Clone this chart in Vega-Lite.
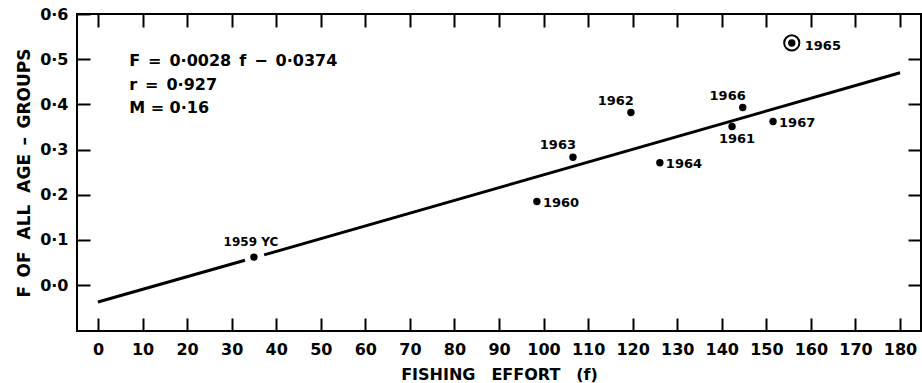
{
  "$schema": "https://vega.github.io/schema/vega-lite/v6.json",
  "autosize": "none",
  "width": 844,
  "height": 317,
  "padding": {"left": 77, "top": 14, "right": 1, "bottom": 52},
  "background": "white",
  "config": {
    "view": {"stroke": "black", "strokeWidth": 2},
    "font": "DejaVu Sans",
    "axis": {"domain": false, "grid": false, "tickColor": "black", "tickWidth": 2, "labelColor": "black", "titleColor": "black", "labelFont": "DejaVu Sans", "titleFont": "DejaVu Sans"}
  },
  "datasets": {
    "pts": [
      {"f": 35, "F": 0.062, "label": "1959 YC"},
      {"f": 98.5, "F": 0.185, "label": "1960"},
      {"f": 142.3, "F": 0.351, "label": "1961"},
      {"f": 119.6, "F": 0.382, "label": "1962"},
      {"f": 106.6, "F": 0.283, "label": "1963"},
      {"f": 126.1, "F": 0.271, "label": "1964"},
      {"f": 155.7, "F": 0.536, "label": "1965"},
      {"f": 144.7, "F": 0.393, "label": "1966"},
      {"f": 151.5, "F": 0.362, "label": "1967"}
    ],
    "fit": [
      {"f": 0, "F": -0.0374, "seg": "a"},
      {"f": 33, "F": 0.055, "seg": "a"},
      {"f": 37.3, "F": 0.067, "seg": "b"},
      {"f": 180, "F": 0.47, "seg": "b"}
    ],
    "notes": [
      {"f": 7, "F": 0.496, "text": "F\u2002=\u20020·0028\u2002f\u2002−\u20020·0374"},
      {"f": 7, "F": 0.443, "text": "r\u2002=\u20020·927"},
      {"f": 7, "F": 0.391, "text": "M = 0·16"}
    ]
  },
  "resolve": {"axis": {"x": "independent", "y": "independent"}},
  "layer": [
    {
      "data": {"name": "fit"},
      "mark": {"type": "line", "color": "black", "strokeWidth": 3},
      "encoding": {
        "x": {"field": "f", "type": "quantitative", "scale": {"domain": [-4.7, 184.7], "nice": false, "zero": false},
          "axis": {"orient": "bottom", "values": [0,10,20,30,40,50,60,70,80,90,100,110,120,130,140,150,160,170,180], "tickSize": -13, "labelPadding": 23, "labelFontSize": 16, "labelFontWeight": "bold", "title": "FISHING\u2003EFFORT\u2003(f)", "titleFontSize": 16, "titleFontWeight": "bold", "titlePadding": 9}},
        "y": {"field": "F", "type": "quantitative", "scale": {"domain": [-0.1015, 0.6], "nice": false, "zero": false},
          "axis": {"orient": "left", "values": [0,0.1,0.2,0.3,0.4,0.5,0.6], "tickSize": -13, "labelPadding": 22, "labelFontSize": 16, "labelFontWeight": "bold", "labelExpr": "replace(format(datum.value, '.1f'), '.', '·')", "title": "F\u2002OF\u2002\u2009ALL\u2002\u2009AGE\u2002–\u2002GROUPS", "titleFontSize": 17, "titleFontWeight": "bold", "titlePadding": 6}},
        "detail": {"field": "seg"}
      }
    },
    {
      "data": {"name": "pts"},
      "mark": {"type": "point", "filled": true, "color": "black", "opacity": 1, "size": 55},
      "encoding": {
        "x": {"field": "f", "type": "quantitative", "axis": {"orient": "top", "values": [0,10,20,30,40,50,60,70,80,90,100,110,120,130,140,150,160,170,180], "tickSize": -13, "labels": false, "title": null}},
        "y": {"field": "F", "type": "quantitative", "axis": {"orient": "right", "values": [0,0.1,0.2,0.3,0.4,0.5], "tickSize": -13, "labels": false, "title": null}}
      }
    },
    {
      "data": {"name": "pts"},
      "transform": [{"filter": "datum.label == '1965'"}],
      "mark": {"type": "point", "filled": false, "color": "black", "strokeWidth": 2, "size": 230, "opacity": 1},
      "encoding": {
        "x": {"field": "f", "type": "quantitative", "axis": null},
        "y": {"field": "F", "type": "quantitative", "axis": null}
      }
    },
    {
      "data": {"name": "pts"},
      "transform": [{"filter": "indexof(['1960','1964','1967'], datum.label) >= 0"}],
      "mark": {"type": "text", "align": "left", "baseline": "middle", "dx": 6, "dy": 1, "fontSize": 13, "fontWeight": "bold", "color": "black"},
      "encoding": {
        "x": {"field": "f", "type": "quantitative", "axis": null},
        "y": {"field": "F", "type": "quantitative", "axis": null},
        "text": {"field": "label"}
      }
    },
    {
      "data": {"name": "pts"},
      "transform": [{"filter": "datum.label == '1965'"}],
      "mark": {"type": "text", "align": "left", "baseline": "middle", "dx": 13, "dy": 3, "fontSize": 13, "fontWeight": "bold", "color": "black"},
      "encoding": {
        "x": {"field": "f", "type": "quantitative", "axis": null},
        "y": {"field": "F", "type": "quantitative", "axis": null},
        "text": {"field": "label"}
      }
    },
    {
      "data": {"name": "pts"},
      "transform": [{"filter": "indexof(['1962','1963','1966'], datum.label) >= 0"}],
      "mark": {"type": "text", "align": "right", "baseline": "middle", "dx": 3, "dy": -12, "fontSize": 13, "fontWeight": "bold", "color": "black"},
      "encoding": {
        "x": {"field": "f", "type": "quantitative", "axis": null},
        "y": {"field": "F", "type": "quantitative", "axis": null},
        "text": {"field": "label"}
      }
    },
    {
      "data": {"name": "pts"},
      "transform": [{"filter": "datum.label == '1959 YC'"}],
      "mark": {"type": "text", "align": "center", "baseline": "middle", "dx": -3, "dy": -15, "fontSize": 12, "fontWeight": "bold", "color": "black"},
      "encoding": {
        "x": {"field": "f", "type": "quantitative", "axis": null},
        "y": {"field": "F", "type": "quantitative", "axis": null},
        "text": {"field": "label"}
      }
    },
    {
      "data": {"name": "pts"},
      "transform": [{"filter": "datum.label == '1961'"}],
      "mark": {"type": "text", "align": "center", "baseline": "middle", "dx": 5, "dy": 12, "fontSize": 13, "fontWeight": "bold", "color": "black"},
      "encoding": {
        "x": {"field": "f", "type": "quantitative", "axis": null},
        "y": {"field": "F", "type": "quantitative", "axis": null},
        "text": {"field": "label"}
      }
    },
    {
      "data": {"name": "notes"},
      "mark": {"type": "text", "align": "left", "baseline": "middle", "fontSize": 16, "fontWeight": "bold", "color": "black"},
      "encoding": {
        "x": {"field": "f", "type": "quantitative", "axis": null},
        "y": {"field": "F", "type": "quantitative", "axis": null},
        "text": {"field": "text"}
      }
    }
  ]
}
